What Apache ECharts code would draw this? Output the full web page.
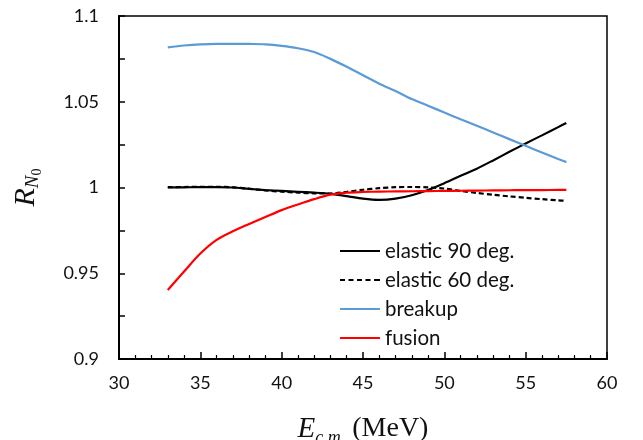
<!DOCTYPE html>
<html>
<head>
<meta charset="utf-8">
<script src="https://cdn.jsdelivr.net/npm/echarts@6/dist/echarts.min.js"></script>
<style>
html,body{margin:0;padding:0;background:#fff;}
#main{width:643px;height:440px;}
</style>
</head>
<body>
<div id="main"></div>
<script>
var energies = [33,34,35,36,37,38,39,40,41,42,43,44,45,46,47,48,49,50,51,52,53,54,55,56,57,57.5];
var elastic90 = [1.0000,1.0001,1.0002,1.0002,1.0000,0.9992,0.9985,0.9980,0.9975,0.9970,0.9963,0.9950,0.9935,0.9928,0.9935,0.9955,0.9985,1.0025,1.0068,1.0110,1.0158,1.0208,1.0257,1.0304,1.0352,1.0376];
var elastic60 = [1.0002,1.0003,1.0004,1.0004,1.0001,0.9993,0.9983,0.9976,0.9970,0.9966,0.9965,0.9975,0.9987,0.9996,1.0002,1.0003,1.0001,0.9994,0.9980,0.9968,0.9958,0.9948,0.9940,0.9932,0.9925,0.9922];
var breakup = [1.0817,1.0828,1.0835,1.0838,1.0838,1.0837,1.0835,1.0826,1.0812,1.0790,1.0750,1.0704,1.0655,1.0605,1.0563,1.0516,1.0477,1.0437,1.0398,1.0360,1.0321,1.0282,1.0243,1.0204,1.0166,1.0148];
var fusion = [0.9402,0.9510,0.9615,0.9695,0.9745,0.9787,0.9828,0.9868,0.9901,0.9932,0.9958,0.9970,0.9974,0.9976,0.9977,0.9978,0.9979,0.9980,0.9981,0.9982,0.9983,0.9984,0.9985,0.9985,0.9986,0.9986];
var seriesNames = ['elastic 90 deg.','elastic 60 deg.','breakup','fusion'];
var xTicks = [30,35,40,45,50,55,60];
var yTicks = [0.9,0.95,1,1.05,1.1];

function pairs(ys){ return energies.map(function(x,i){ return [x, ys[i]]; }); }

var chart = echarts.init(document.getElementById('main'), null, {renderer:'canvas'});
var labelFont = 'Lato, "Open Sans", sans-serif';
var lineSeries = function(name, ys, color, type){
  return {
    name: name, type: 'line', data: pairs(ys), showSymbol: false, symbol: 'none',
    smooth: 0.3,
    lineStyle: {color: color, width: 2.2, type: type || 'solid'},
    itemStyle: {color: color},
    emphasis: {disabled: true}, animation: false
  };
};
var solidIcon = 'path://M0,0h40v2h-40z';
var dashIcon = 'path://M0,0h5v2h-5z M8.5,0h5v2h-5z M17,0h5v2h-5z M25.5,0h5v2h-5z M34,0h6v2h-6z';
chart.setOption({
  animation: false,
  backgroundColor: '#fff',
  grid: {left: 119, right: 36, top: 16, bottom: 81, show: true, borderColor: '#000', borderWidth: 1.5, outerBoundsMode: 'none', containLabel: false},
  legend: {
    orient: 'vertical', left: 340, top: 240, padding: 0, itemWidth: 40, itemHeight: 2.2, itemGap: 7,
    symbolKeepAspect: false,
    data: [
      {name: seriesNames[0], icon: solidIcon},
      {name: seriesNames[1], icon: dashIcon},
      {name: seriesNames[2], icon: solidIcon},
      {name: seriesNames[3], icon: solidIcon}
    ],
    textStyle: {fontFamily: labelFont, fontSize: 20.5, color: '#111', lineHeight: 22},
    selectedMode: false
  },
  xAxis: {
    type: 'value', min: xTicks[0], max: xTicks[xTicks.length-1], interval: 5,
    axisLine: {show: true, onZero: false, lineStyle: {color: '#000', width: 2}},
    axisTick: {show: true, inside: true, length: 7, lineStyle: {color: '#000', width: 1.5}},
    minorTick: {show: true, splitNumber: 5, length: 4, lineStyle: {color: '#000', width: 1.2}},
    splitLine: {show: false},
    axisLabel: {fontFamily: labelFont, fontSize: 18, color: '#111', margin: 15},
    name: '{e|E}{s|c.m.}{m| (MeV)}', nameLocation: 'middle', nameGap: 52,
    nameTextStyle: {
      rich: {
        e: {fontFamily: '"Liberation Serif", serif', fontStyle: 'italic', fontSize: 29, color: '#111'},
        s: {fontFamily: '"Liberation Serif", serif', fontStyle: 'italic', fontSize: 18, color: '#111', padding: [18,0,0,0]},
        m: {fontFamily: '"Liberation Serif", serif', fontSize: 28, color: '#111'}
      }
    }
  },
  yAxis: {
    type: 'value', min: yTicks[0], max: yTicks[yTicks.length-1], interval: 0.05,
    axisLine: {show: true, onZero: false, lineStyle: {color: '#000', width: 2}},
    axisTick: {show: true, inside: true, length: 6, lineStyle: {color: '#000', width: 1.5}},
    minorTick: {show: true, splitNumber: 2, length: 6, lineStyle: {color: '#000', width: 1.5}},
    splitLine: {show: false},
    axisLabel: {fontFamily: labelFont, fontSize: 18, color: '#111', margin: 20,
      formatter: function(v){ return String(parseFloat(v.toFixed(2))); }},
    name: '{r|R}{n|N}{z|0}', nameLocation: 'middle', nameRotate: 90, nameGap: 75,
    nameTextStyle: {
      rich: {
        r: {fontFamily: '"Liberation Serif", serif', fontStyle: 'italic', fontSize: 30, color: '#111'},
        n: {fontFamily: '"Liberation Serif", serif', fontStyle: 'italic', fontSize: 19, color: '#111', padding: [12,0,0,0]},
        z: {fontFamily: '"Liberation Serif", serif', fontSize: 14, color: '#111', padding: [21,0,0,0]}
      }
    }
  },
  series: [
    lineSeries(seriesNames[0], elastic90, '#000000', 'solid'),
    lineSeries(seriesNames[1], elastic60, '#000000', [5,3]),
    lineSeries(seriesNames[2], breakup, '#5B9BD5', 'solid'),
    lineSeries(seriesNames[3], fusion, '#FF0000', 'solid')
  ]
});
</script>
</body>
</html>
